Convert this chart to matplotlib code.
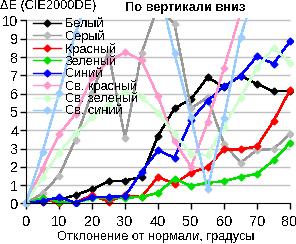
import numpy as np
import matplotlib
matplotlib.use('Agg')
import matplotlib.pyplot as plt

plt.rcParams['font.family'] = ['Liberation Sans', 'DejaVu Sans']
plt.rcParams['text.antialiased'] = False

angles = [0, 5, 10, 15, 20, 25, 30, 35, 40, 45, 50, 55, 60, 65, 70, 75, 80]

white = [0, 0.1, 0.2, 0.46, 0.78, 1.2, 1.25, 1.45, 3.7, 5.2, 5.7, 6.9, 6.35, 6.97, 6.54, 6.12, 6.17]
gray = [0, 0.55, 1.52, 3.48, 6.06, 8.26, 3.55, 8.2, 10.8, 9.8, 5.2, 5.8, 3.26, 2.23, 2.92, 2.97, 3.8]
red = [0, 0.28, 0.0, 0.05, 0.45, 0.1, 0.45, 0.35, 1.45, 1.07, 1.68, 1.98, 2.95, 2.95, 3.12, 4.5, 6.2]
green = [0, 0.3, 0.1, 0.05, 0.28, 0.3, 0.32, 0.35, 0.58, 1.35, 0.95, 1.13, 1.22, 1.44, 1.62, 2.35, 3.32]
blue = [0, 0.15, 0.33, 0.05, 0.33, 0.37, 0.4, 1.72, 2.9, 2.5, 4.55, 5.6, 6.4, 6.97, 8.05, 7.63, 8.87]
lred = [0, 1.9, 3.77, 4.9, 6.9, 7.76, 8.27, 7.83, 5.85, 3.4, 2.0, 4.43, 7.4, 10.4, 12, 13, 14]
lgreen = [0, 1.46, 2.78, 3.83, 4.7, 5.4, 6.12, 5.84, 4.95, 3.8, 2.7, 2.65, 4.2, 5.78, 7.42, 8.51, 7.66]
lblue = [0, 2.8, 6.03, 9.33, 11.7, 13, 14, 13, 12, 8.2, 4.7, 0.77, 4.68, 9.1, 12, 13, 14]

series = [white, gray, red, green, blue, lred, lgreen, lblue]
names = ['Белый', 'Серый', 'Красный', 'Зеленый', 'Синий',
         'Св. красный', 'Св. зеленый', 'Св. синий']
colors = ['#000000', '#999999', '#ff0000', '#00e000', '#0000ff',
          '#ff99cc', '#ccffcc', '#99ccff']
mcolors = ['#000000', '#bbbbbb', '#ff0000', '#00e000', '#0000ff',
           '#ff99cc', '#ccffcc', '#99ccff']

fig = plt.figure(figsize=(2.96, 2.44), dpi=100)
ax = fig.add_axes([0.0767, 0.155, 0.9142, 0.770])

ax.hlines(range(1, 11), 0, 80, colors='#c0c0c0', linewidth=1, zorder=0)

for vals, name, col, mcol in zip(series, names, colors, mcolors):
    ax.plot(angles, vals, color=col, marker='D', markersize=3.5,
            markerfacecolor=mcol, markeredgecolor=mcol,
            linewidth=1, label=name, antialiased=False)

ax.set_xlim(-1, 81)
ax.set_ylim(-0.15, 10.12)
ax.spines['top'].set_visible(False)
ax.spines['right'].set_visible(False)
ax.spines['left'].set_position(('data', 0))
ax.spines['bottom'].set_position(('data', 0))
ax.spines['left'].set_bounds(0, 10)
ax.spines['bottom'].set_bounds(0, 80)
ax.set_xticks(range(0, 81, 10))
ax.set_yticks(range(0, 11))
ax.tick_params(axis='x', length=4, width=1, pad=4, labelsize=10.5)
ax.tick_params(axis='y', length=4, width=1, pad=1.5, labelsize=10.5)

fig.text(0.0, 1 - 5.5 / 244, 'ΔE (CIE2000DE)', fontsize=9.2, ha='left', va='center')
fig.text(185 / 296, 1 - 8 / 244, 'По вертикали вниз', fontsize=9.2,
         fontweight='bold', ha='center', va='center')
fig.text(155.5 / 296, 1 - 237 / 244, 'Отклонение от нормали, градусы',
         fontsize=9.2, ha='center', va='center')

ax.legend(loc='upper left', bbox_to_anchor=(33 / 296, 1 - 18 / 244),
          bbox_transform=fig.transFigure, frameon=False, fontsize=9.2,
          borderpad=0, borderaxespad=0, handlelength=2.2,
          handletextpad=0.3, labelspacing=0.02)

fig.savefig('out.png', dpi=100)
